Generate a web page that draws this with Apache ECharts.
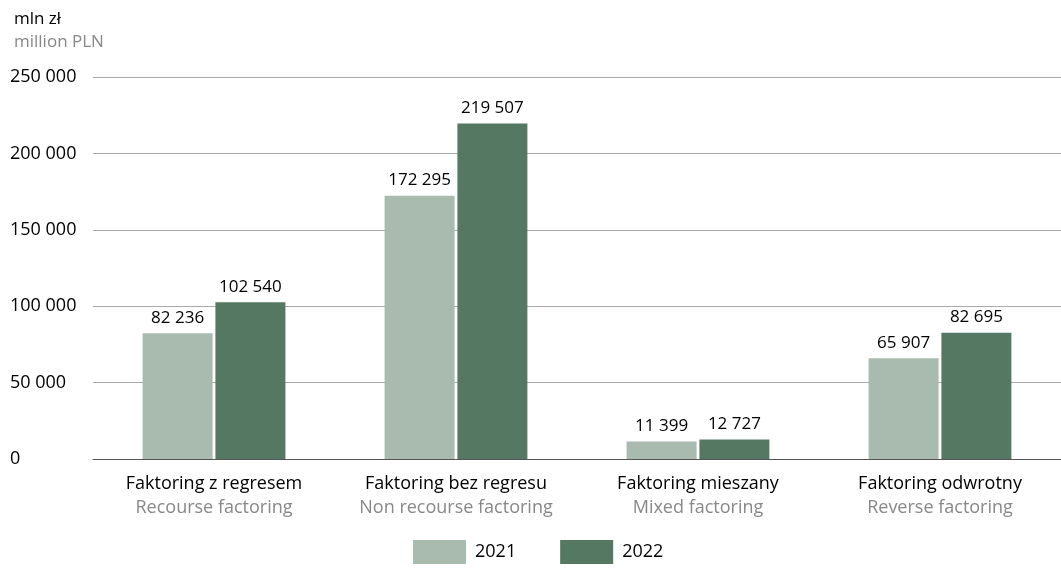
<!DOCTYPE html>
<html>
  <head>
    <meta charset="utf-8" />
    <title>Faktoring</title>
    <script src="https://cdn.jsdelivr.net/npm/echarts@6.0.0/dist/echarts.min.js"></script>
  </head>
  <body style="margin:0">
    <div id="main" style="width: 1061px;height:570px;"></div>
    <script type="text/javascript">
const categoriesPl = ['Faktoring z regresem', 'Faktoring bez regresu', 'Faktoring mieszany', 'Faktoring odwrotny'];
const categoriesEn = ['Recourse factoring', 'Non recourse factoring', 'Mixed factoring', 'Reverse factoring'];
const values2021 = [82236, 172295, 11399, 65907];
const values2022 = [102540, 219507, 12727, 82695];

const FONT = 'Open Sans';
function fmt(v) {
  return String(v).replace(/\B(?=(\d{3})+(?!\d))/g, ' ');
}

var chartDom = document.getElementById('main');
var myChart = echarts.init(chartDom);
var valueLabel = {
  show: true, position: 'top', distance: 7,
  fontFamily: FONT, fontSize: 17, color: '#000',
  formatter: function (p) { return fmt(p.value); }
};
var option = {
  textStyle: { fontFamily: FONT },
  title: {
    text: 'mln zł',
    subtext: 'million PLN',
    left: 9,
    top: 6,
    itemGap: 6,
    textStyle: { fontFamily: FONT, fontSize: 17, fontWeight: 'normal', color: '#000' },
    subtextStyle: { fontFamily: FONT, fontSize: 17, color: '#888' }
  },
  legend: {
    bottom: 1,
    left: 408,
    icon: 'rect',
    itemWidth: 53,
    itemHeight: 24,
    itemGap: 44,
    textStyle: { fontFamily: FONT, fontSize: 18, color: '#000', padding: [0, 0, 0, 4] },
    data: ['2021', '2022']
  },
  grid: { left: 93, right: 0, top: 77, bottom: 111, containLabel: false },
  xAxis: {
    type: 'category',
    data: categoriesPl,
    axisTick: { show: false },
    axisLine: { lineStyle: { color: '#555' } },
    axisLabel: {
      margin: 13,
      formatter: function (v, i) {
        return '{a|' + v + '}\n{b|' + categoriesEn[i] + '}';
      },
      rich: {
        a: { fontFamily: FONT, fontSize: 18, color: '#000', lineHeight: 24 },
        b: { fontFamily: FONT, fontSize: 18, color: '#888', lineHeight: 24 }
      }
    }
  },
  yAxis: {
    type: 'value',
    min: 0,
    max: 250000,
    interval: 50000,
    axisLabel: {
      align: 'left',
      margin: 83,
      fontFamily: FONT,
      fontSize: 18,
      color: '#000',
      formatter: function (v) { return fmt(v); }
    },
    splitLine: { lineStyle: { color: '#aaa' } }
  },
  series: [
    {
      name: '2021',
      type: 'bar',
      data: values2021,
      barWidth: 70,
      barGap: '4%',
      itemStyle: { color: '#a9bbaf' },
      label: valueLabel
    },
    {
      name: '2022',
      type: 'bar',
      data: values2022,
      barWidth: 70,
      itemStyle: { color: '#557862' },
      label: valueLabel
    }
  ]
};

option && myChart.setOption(option);
    </script>
  </body>
</html>
